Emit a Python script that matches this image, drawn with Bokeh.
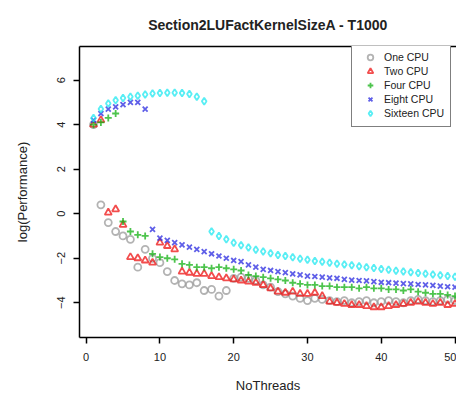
from bokeh.plotting import figure
from bokeh.models import Range1d, FixedTicker, LinearAxis, Legend, LegendItem
from bokeh.embed import file_html
from bokeh.resources import INLINE

threads = list(range(1, 51))

one_cpu = [4.0, 0.4, -0.4, -0.8, -1.0, -1.15, -2.4, -1.6, -2.0, -2.2,
           -2.6, -3.0, -3.15, -3.2, -3.1, -3.45, -3.4, -3.7, -3.45, -2.9,
           -2.85, -2.9, -3.0, -3.2, -3.3, -3.5, -3.6, -3.7, -3.8, -3.9,
           -3.8, -3.85, -3.9, -3.95, -3.9, -4.0, -3.95, -3.9, -4.0, -3.95,
           -3.9, -3.95, -4.0, -3.9, -3.85, -3.9, -3.95, -3.9, -3.85, -3.9]

two_cpu = [4.0, 4.2, 0.05, 0.2, -0.5, -1.95, -2.0, -2.1, -2.2, -1.3,
           -1.45, -1.6, -2.6, -2.65, -2.7, -2.7, -2.8, -2.85, -2.9, -2.95,
           -3.0, -3.05, -3.1, -3.2, -3.35, -3.5, -3.55, -3.5, -3.6, -3.6,
           -3.55, -3.7, -3.95, -4.0, -4.05, -4.1, -4.1, -4.15, -4.2, -4.2,
           -4.15, -4.1, -4.05, -4.0, -3.95, -4.0, -4.05, -4.0, -4.1, -4.05]

four_cpu = [4.0, 4.1, 4.3, 4.5, -0.35, -0.8, -0.95, -1.0, -1.8, -1.95,
            -2.0, -2.05, -2.25, -2.3, -2.4, -2.4, -2.45, -2.4, -2.45, -2.5,
            -2.55, -2.75, -2.8, -2.85, -2.9, -2.95, -3.0, -3.1, -3.15, -3.2,
            -3.2, -3.25, -3.25, -3.3, -3.3, -3.3, -3.35, -3.3, -3.35, -3.35,
            -3.4, -3.4, -3.45, -3.4, -3.5, -3.55, -3.6, -3.6, -3.65, -3.7]

eight_cpu = [4.2, 4.5, 4.7, 4.8, 4.9, 5.0, 5.0, 4.7, -0.7, -1.1,
             -1.2, -1.3, -1.4, -1.5, -1.6, -1.7, -1.8, -1.9, -2.0, -2.1,
             -2.15, -2.3, -2.4, -2.5, -2.55, -2.6, -2.65, -2.7, -2.75, -2.8,
             -2.82, -2.85, -2.88, -2.9, -2.95, -2.98, -3.0, -3.02, -3.05, -3.08,
             -3.1, -3.12, -3.14, -3.15, -3.18, -3.2, -3.22, -3.25, -3.28, -3.3]

sixteen_cpu = [4.3, 4.7, 4.95, 5.1, 5.2, 5.25, 5.3, 5.35, 5.4, 5.42,
               5.43, 5.43, 5.42, 5.38, 5.25, 5.05, -0.8, -1.0, -1.15, -1.3,
               -1.42, -1.52, -1.62, -1.7, -1.78, -1.85, -1.9, -1.96, -2.02, -2.07,
               -2.12, -2.16, -2.2, -2.25, -2.28, -2.32, -2.36, -2.4, -2.44, -2.48,
               -2.52, -2.56, -2.6, -2.63, -2.66, -2.7, -2.73, -2.76, -2.8, -2.83]

series_names = ["One CPU", "Two CPU", "Four CPU", "Eight CPU", "Sixteen CPU"]
series_values = [one_cpu, two_cpu, four_cpu, eight_cpu, sixteen_cpu]
series_markers = ["circle", "triangle", "cross", "x", "diamond"]
series_colors = ["#9a9a9a", "#ee1111", "#11b011", "#2a2ae0", "#22e8f0"]

x_ticks = [0, 10, 20, 30, 40, 50]
y_ticks = [-4, -2, 0, 2, 4, 6]

FONT = "Liberation Sans"

p = figure(width=456, height=395, output_backend="svg", toolbar_location=None,
           x_range=Range1d(-0.9, 50.2), y_range=Range1d(-5.56, 7.51),
           min_border_left=79, min_border_right=0, min_border_top=45,
           min_border_bottom=56, outline_line_color=None,
           title="Section2LUFactKernelSizeA - T1000")
p.title.text_font = FONT
p.title.text_font_size = "14px"
p.title.text_font_style = "bold"
p.title.align = "center"
p.title.text_color = "#222222"
p.title.standoff = 28
p.xgrid.visible = False
p.ygrid.visible = False
p.background_fill_color = "white"
p.border_fill_color = "white"

for ax, ticks, label in ((p.xaxis[0], x_ticks, "NoThreads"), (p.yaxis[0], y_ticks, "log(Performance)")):
    ax.ticker = FixedTicker(ticks=ticks)
    ax.axis_label = label
    ax.axis_label_text_font = FONT
    ax.axis_label_text_font_size = "13px"
    ax.axis_label_text_font_style = "normal"
    ax.axis_label_text_color = "#222222"
    ax.major_label_text_font = FONT
    ax.major_label_text_font_size = "11px"
    ax.major_label_text_color = "#222222"
    ax.axis_line_color = "black"
    ax.axis_line_width = 1.5
    ax.major_tick_line_color = "black"
    ax.major_tick_line_width = 1.5
    ax.major_tick_in = 0
    ax.major_tick_out = 6
    ax.minor_tick_line_color = None

p.yaxis[0].major_label_orientation = "vertical"
p.yaxis[0].major_label_standoff = 8
p.yaxis[0].axis_label_standoff = 25
p.xaxis[0].major_label_standoff = 9
p.xaxis[0].axis_label_standoff = 14

top_axis = LinearAxis(ticker=FixedTicker(ticks=[]), axis_line_color="black",
                      axis_line_width=1.5, major_tick_line_color=None,
                      minor_tick_line_color=None, major_label_text_color=None,
                      major_label_text_font_size="0px", major_label_standoff=0,
                      major_tick_in=0, major_tick_out=0, minor_tick_in=0,
                      minor_tick_out=0)
p.add_layout(top_axis, "above")

items = []
for name, vals, marker, color in zip(series_names, series_values, series_markers, series_colors):
    r = p.scatter(threads, vals, marker=marker, size=7, fill_color=None,
                  line_color=color, line_width=1.8, line_alpha=0.75)
    items.append(LegendItem(label=name, renderers=[r]))

legend = Legend(items=items, location=(272, 210), margin=0, padding=6,
                spacing=0, glyph_width=24, glyph_height=14, label_height=14,
                label_standoff=2, label_text_font=FONT, label_text_font_size="10.5px",
                label_text_color="#222222",
                border_line_color="black", border_line_width=1.5,
                background_fill_color="white", background_fill_alpha=1.0)
p.add_layout(legend, "center")

open("out.html", "w").write(file_html(p, INLINE))
